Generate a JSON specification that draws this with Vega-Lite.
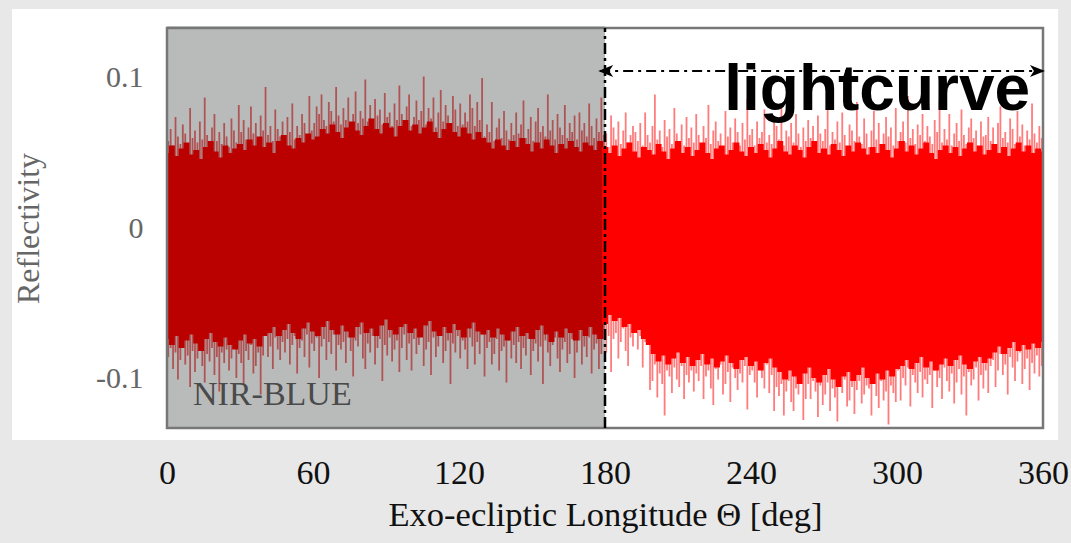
{
"$schema":"https://vega.github.io/schema/vega-lite/v6.json",
"width":876,"height":400,
"autosize":{"type":"none"},
"padding":{"left":167,"top":28,"right":28,"bottom":115},
"background":"#e8e8e8",
"config":{"view":{"stroke":null},"axis":{"grid":false}},
"datasets":{
"panel":[{"x":-63.7,"x2":366.2,"y":-0.1413,"y2":0.146}],
"shade":[{"x":0,"x2":180,"y":-0.1333,"y2":0.1345}],
"frame":[{"x":0,"x2":360,"y":-0.1333,"y2":0.1333}],
"vline":[{"x":180,"y":-0.1333,"y2":0.1333}],
"arrow":[{"x":178,"x2":360,"y":0.1047}],
"tipL":[{"x":177.2,"y":0.1047}],
"tipR":[{"x":360.8,"y":0.1047}],
"lab":[{"x":354.7,"y":0.0787,"t":"lightcurve"}],
"band":[{"x":10.7,"y":-0.118,"t":"NIR-BLUE"}],
"core":[
{"x":0,"c":0.050,"d":-0.074},{"x":2,"c":0.055,"d":-0.078},{"x":4,"c":0.048,"d":-0.072},{"x":6,"c":0.053,"d":-0.080},{"x":8,"c":0.057,"d":-0.075},{"x":10,"c":0.049,"d":-0.071},{"x":12,"c":0.052,"d":-0.077},{"x":14,"c":0.046,"d":-0.082},{"x":16,"c":0.054,"d":-0.074},{"x":18,"c":0.058,"d":-0.070},
{"x":20,"c":0.051,"d":-0.076},{"x":22,"c":0.047,"d":-0.079},{"x":24,"c":0.055,"d":-0.073},{"x":26,"c":0.050,"d":-0.078},{"x":28,"c":0.053,"d":-0.081},{"x":30,"c":0.056,"d":-0.075},{"x":32,"c":0.052,"d":-0.071},{"x":34,"c":0.059,"d":-0.077},{"x":36,"c":0.055,"d":-0.074},{"x":38,"c":0.061,"d":-0.079},
{"x":40,"c":0.054,"d":-0.072},{"x":42,"c":0.057,"d":-0.070},{"x":44,"c":0.050,"d":-0.066},{"x":46,"c":0.058,"d":-0.072},{"x":48,"c":0.062,"d":-0.068},{"x":50,"c":0.055,"d":-0.064},{"x":52,"c":0.053,"d":-0.070},{"x":54,"c":0.060,"d":-0.074},{"x":56,"c":0.057,"d":-0.067},{"x":58,"c":0.063,"d":-0.063},
{"x":60,"c":0.059,"d":-0.069},{"x":62,"c":0.061,"d":-0.072},{"x":64,"c":0.066,"d":-0.066},{"x":66,"c":0.063,"d":-0.062},{"x":68,"c":0.069,"d":-0.068},{"x":70,"c":0.064,"d":-0.071},{"x":72,"c":0.060,"d":-0.065},{"x":74,"c":0.067,"d":-0.069},{"x":76,"c":0.071,"d":-0.073},{"x":78,"c":0.065,"d":-0.066},
{"x":80,"c":0.062,"d":-0.063},{"x":82,"c":0.068,"d":-0.070},{"x":84,"c":0.073,"d":-0.067},{"x":86,"c":0.066,"d":-0.072},{"x":88,"c":0.063,"d":-0.065},{"x":90,"c":0.070,"d":-0.061},{"x":92,"c":0.067,"d":-0.068},{"x":94,"c":0.061,"d":-0.071},{"x":96,"c":0.068,"d":-0.066},{"x":98,"c":0.072,"d":-0.064},
{"x":100,"c":0.065,"d":-0.070},{"x":102,"c":0.069,"d":-0.067},{"x":104,"c":0.063,"d":-0.073},{"x":106,"c":0.067,"d":-0.065},{"x":108,"c":0.071,"d":-0.062},{"x":110,"c":0.064,"d":-0.069},{"x":112,"c":0.060,"d":-0.072},{"x":114,"c":0.066,"d":-0.066},{"x":116,"c":0.070,"d":-0.070},{"x":118,"c":0.064,"d":-0.064},
{"x":120,"c":0.061,"d":-0.068},{"x":122,"c":0.067,"d":-0.073},{"x":124,"c":0.063,"d":-0.067},{"x":126,"c":0.059,"d":-0.063},{"x":128,"c":0.064,"d":-0.069},{"x":130,"c":0.060,"d":-0.071},{"x":132,"c":0.057,"d":-0.068},{"x":134,"c":0.053,"d":-0.073},{"x":136,"c":0.059,"d":-0.067},{"x":138,"c":0.055,"d":-0.071},
{"x":140,"c":0.052,"d":-0.075},{"x":142,"c":0.058,"d":-0.069},{"x":144,"c":0.054,"d":-0.066},{"x":146,"c":0.060,"d":-0.072},{"x":148,"c":0.056,"d":-0.070},{"x":150,"c":0.051,"d":-0.074},{"x":152,"c":0.057,"d":-0.068},{"x":154,"c":0.053,"d":-0.065},{"x":156,"c":0.059,"d":-0.071},{"x":158,"c":0.055,"d":-0.076},
{"x":160,"c":0.050,"d":-0.069},{"x":162,"c":0.056,"d":-0.073},{"x":164,"c":0.053,"d":-0.067},{"x":166,"c":0.058,"d":-0.070},{"x":168,"c":0.054,"d":-0.075},{"x":170,"c":0.051,"d":-0.068},{"x":172,"c":0.057,"d":-0.072},{"x":174,"c":0.055,"d":-0.066},{"x":176,"c":0.052,"d":-0.071},{"x":178,"c":0.058,"d":-0.074},
{"x":180,"c":0.054,"d":-0.064},{"x":182,"c":0.050,"d":-0.058},{"x":184,"c":0.055,"d":-0.062},{"x":186,"c":0.048,"d":-0.060},{"x":188,"c":0.053,"d":-0.066},{"x":190,"c":0.057,"d":-0.064},{"x":192,"c":0.051,"d":-0.070},{"x":194,"c":0.047,"d":-0.068},{"x":196,"c":0.054,"d":-0.074},{"x":198,"c":0.052,"d":-0.078},
{"x":200,"c":0.049,"d":-0.084},{"x":202,"c":0.056,"d":-0.089},{"x":204,"c":0.051,"d":-0.085},{"x":206,"c":0.046,"d":-0.091},{"x":208,"c":0.053,"d":-0.087},{"x":210,"c":0.058,"d":-0.083},{"x":212,"c":0.050,"d":-0.090},{"x":214,"c":0.054,"d":-0.086},{"x":216,"c":0.048,"d":-0.092},{"x":218,"c":0.052,"d":-0.088},
{"x":220,"c":0.057,"d":-0.084},{"x":222,"c":0.050,"d":-0.091},{"x":224,"c":0.046,"d":-0.087},{"x":226,"c":0.053,"d":-0.093},{"x":228,"c":0.055,"d":-0.089},{"x":230,"c":0.049,"d":-0.085},{"x":232,"c":0.052,"d":-0.090},{"x":234,"c":0.057,"d":-0.094},{"x":236,"c":0.051,"d":-0.088},{"x":238,"c":0.048,"d":-0.086},
{"x":240,"c":0.054,"d":-0.092},{"x":242,"c":0.050,"d":-0.089},{"x":244,"c":0.056,"d":-0.095},{"x":246,"c":0.052,"d":-0.090},{"x":248,"c":0.047,"d":-0.087},{"x":250,"c":0.053,"d":-0.093},{"x":252,"c":0.058,"d":-0.096},{"x":254,"c":0.051,"d":-0.101},{"x":256,"c":0.049,"d":-0.095},{"x":258,"c":0.055,"d":-0.099},
{"x":260,"c":0.052,"d":-0.104},{"x":262,"c":0.047,"d":-0.097},{"x":264,"c":0.054,"d":-0.093},{"x":266,"c":0.058,"d":-0.100},{"x":268,"c":0.050,"d":-0.103},{"x":270,"c":0.053,"d":-0.098},{"x":272,"c":0.049,"d":-0.094},{"x":274,"c":0.056,"d":-0.101},{"x":276,"c":0.052,"d":-0.106},{"x":278,"c":0.048,"d":-0.099},
{"x":280,"c":0.055,"d":-0.096},{"x":282,"c":0.051,"d":-0.102},{"x":284,"c":0.057,"d":-0.098},{"x":286,"c":0.053,"d":-0.093},{"x":288,"c":0.049,"d":-0.100},{"x":290,"c":0.054,"d":-0.104},{"x":292,"c":0.050,"d":-0.097},{"x":294,"c":0.056,"d":-0.101},{"x":296,"c":0.052,"d":-0.095},{"x":298,"c":0.047,"d":-0.099},
{"x":300,"c":0.053,"d":-0.094},{"x":302,"c":0.058,"d":-0.092},{"x":304,"c":0.051,"d":-0.088},{"x":306,"c":0.055,"d":-0.094},{"x":308,"c":0.049,"d":-0.090},{"x":310,"c":0.053,"d":-0.086},{"x":312,"c":0.057,"d":-0.093},{"x":314,"c":0.050,"d":-0.089},{"x":316,"c":0.046,"d":-0.095},{"x":318,"c":0.052,"d":-0.091},
{"x":320,"c":0.055,"d":-0.087},{"x":322,"c":0.050,"d":-0.092},{"x":324,"c":0.054,"d":-0.088},{"x":326,"c":0.048,"d":-0.085},{"x":328,"c":0.053,"d":-0.091},{"x":330,"c":0.057,"d":-0.094},{"x":332,"c":0.051,"d":-0.089},{"x":334,"c":0.055,"d":-0.086},{"x":336,"c":0.049,"d":-0.090},{"x":338,"c":0.052,"d":-0.087},
{"x":340,"c":0.056,"d":-0.083},{"x":342,"c":0.050,"d":-0.079},{"x":344,"c":0.054,"d":-0.084},{"x":346,"c":0.048,"d":-0.080},{"x":348,"c":0.053,"d":-0.076},{"x":350,"c":0.057,"d":-0.082},{"x":352,"c":0.051,"d":-0.078},{"x":354,"c":0.055,"d":-0.081},{"x":356,"c":0.050,"d":-0.077},{"x":358,"c":0.053,"d":-0.080},
{"x":360,"c":0.051,"d":-0.076}
],
"spk":[
{"x":0.5,"h":0.058,"l":-0.086},{"x":1.5,"h":0.066,"l":-0.080},{"x":2.5,"h":0.055,"l":-0.094},{"x":3.5,"h":0.074,"l":-0.083},{"x":4.5,"h":0.061,"l":-0.101},{"x":5.5,"h":0.056,"l":-0.088},{"x":6.5,"h":0.069,"l":-0.079},{"x":7.5,"h":0.063,"l":-0.091},{"x":8.5,"h":0.054,"l":-0.085},{"x":9.5,"h":0.080,"l":-0.106},
{"x":10.5,"h":0.060,"l":-0.082},{"x":11.5,"h":0.065,"l":-0.096},{"x":12.5,"h":0.057,"l":-0.087},{"x":13.5,"h":0.071,"l":-0.081},{"x":14.5,"h":0.059,"l":-0.092},{"x":15.5,"h":0.087,"l":-0.103},{"x":16.5,"h":0.062,"l":-0.084},{"x":17.5,"h":0.055,"l":-0.089},{"x":18.5,"h":0.067,"l":-0.080},{"x":19.5,"h":0.076,"l":-0.098},
{"x":20.5,"h":0.058,"l":-0.086},{"x":21.5,"h":0.064,"l":-0.109},{"x":22.5,"h":0.056,"l":-0.083},{"x":23.5,"h":0.070,"l":-0.090},{"x":24.5,"h":0.061,"l":-0.081},{"x":25.5,"h":0.054,"l":-0.095},{"x":26.5,"h":0.073,"l":-0.087},{"x":27.5,"h":0.065,"l":-0.079},{"x":28.5,"h":0.057,"l":-0.100},{"x":29.5,"h":0.082,"l":-0.084},
{"x":30.5,"h":0.064,"l":-0.090},{"x":31.5,"h":0.072,"l":-0.104},{"x":32.5,"h":0.059,"l":-0.082},{"x":33.5,"h":0.067,"l":-0.088},{"x":34.5,"h":0.081,"l":-0.078},{"x":35.5,"h":0.063,"l":-0.097},{"x":36.5,"h":0.070,"l":-0.092},{"x":37.5,"h":0.060,"l":-0.083},{"x":38.5,"h":0.075,"l":-0.111},{"x":39.5,"h":0.065,"l":-0.085},
{"x":40.5,"h":0.094,"l":-0.072},{"x":41.5,"h":0.062,"l":-0.086},{"x":42.5,"h":0.068,"l":-0.079},{"x":43.5,"h":0.058,"l":-0.094},{"x":44.5,"h":0.079,"l":-0.073},{"x":45.5,"h":0.066,"l":-0.081},{"x":46.5,"h":0.061,"l":-0.088},{"x":47.5,"h":0.071,"l":-0.076},{"x":48.5,"h":0.060,"l":-0.083},{"x":49.5,"h":0.074,"l":-0.074},
{"x":50.5,"h":0.064,"l":-0.091},{"x":51.5,"h":0.083,"l":-0.078},{"x":52.5,"h":0.059,"l":-0.072},{"x":53.5,"h":0.068,"l":-0.097},{"x":54.5,"h":0.062,"l":-0.080},{"x":55.5,"h":0.076,"l":-0.075},{"x":56.5,"h":0.070,"l":-0.086},{"x":57.5,"h":0.058,"l":-0.071},{"x":58.5,"h":0.088,"l":-0.093},{"x":59.5,"h":0.065,"l":-0.077},
{"x":60.5,"h":0.070,"l":-0.082},{"x":61.5,"h":0.081,"l":-0.073},{"x":62.5,"h":0.076,"l":-0.100},{"x":63.5,"h":0.089,"l":-0.079},{"x":64.5,"h":0.072,"l":-0.074},{"x":65.5,"h":0.068,"l":-0.088},{"x":66.5,"h":0.084,"l":-0.076},{"x":67.5,"h":0.078,"l":-0.084},{"x":68.5,"h":0.071,"l":-0.071},{"x":69.5,"h":0.094,"l":-0.095},
{"x":70.5,"h":0.075,"l":-0.078},{"x":71.5,"h":0.069,"l":-0.081},{"x":72.5,"h":0.080,"l":-0.076},{"x":73.5,"h":0.072,"l":-0.090},{"x":74.5,"h":0.087,"l":-0.073},{"x":75.5,"h":0.068,"l":-0.082},{"x":76.5,"h":0.076,"l":-0.099},{"x":77.5,"h":0.091,"l":-0.075},{"x":78.5,"h":0.070,"l":-0.079},{"x":79.5,"h":0.078,"l":-0.071},
{"x":80.5,"h":0.073,"l":-0.087},{"x":81.5,"h":0.099,"l":-0.094},{"x":82.5,"h":0.071,"l":-0.077},{"x":83.5,"h":0.082,"l":-0.083},{"x":84.5,"h":0.067,"l":-0.072},{"x":85.5,"h":0.086,"l":-0.091},{"x":86.5,"h":0.075,"l":-0.080},{"x":87.5,"h":0.079,"l":-0.074},{"x":88.5,"h":0.069,"l":-0.102},{"x":89.5,"h":0.090,"l":-0.078},
{"x":90.5,"h":0.074,"l":-0.085},{"x":91.5,"h":0.077,"l":-0.073},{"x":92.5,"h":0.068,"l":-0.089},{"x":93.5,"h":0.083,"l":-0.081},{"x":94.5,"h":0.072,"l":-0.075},{"x":95.5,"h":0.095,"l":-0.096},{"x":96.5,"h":0.076,"l":-0.080},{"x":97.5,"h":0.070,"l":-0.071},{"x":98.5,"h":0.081,"l":-0.088},{"x":99.5,"h":0.089,"l":-0.077},
{"x":100.5,"h":0.068,"l":-0.095},{"x":101.5,"h":0.074,"l":-0.074},{"x":102.5,"h":0.085,"l":-0.084},{"x":103.5,"h":0.072,"l":-0.078},{"x":104.5,"h":0.078,"l":-0.072},{"x":105.5,"h":0.101,"l":-0.092},{"x":106.5,"h":0.069,"l":-0.081},{"x":107.5,"h":0.080,"l":-0.076},{"x":108.5,"h":0.073,"l":-0.098},{"x":109.5,"h":0.087,"l":-0.073},
{"x":110.5,"h":0.067,"l":-0.086},{"x":111.5,"h":0.077,"l":-0.079},{"x":112.5,"h":0.092,"l":-0.070},{"x":113.5,"h":0.071,"l":-0.090},{"x":114.5,"h":0.082,"l":-0.082},{"x":115.5,"h":0.075,"l":-0.075},{"x":116.5,"h":0.070,"l":-0.104},{"x":117.5,"h":0.088,"l":-0.077},{"x":118.5,"h":0.079,"l":-0.083},{"x":119.5,"h":0.068,"l":-0.072},
{"x":120.5,"h":0.083,"l":-0.087},{"x":121.5,"h":0.069,"l":-0.075},{"x":122.5,"h":0.077,"l":-0.081},{"x":123.5,"h":0.071,"l":-0.094},{"x":124.5,"h":0.089,"l":-0.073},{"x":125.5,"h":0.080,"l":-0.079},{"x":126.5,"h":0.068,"l":-0.091},{"x":127.5,"h":0.084,"l":-0.076},{"x":128.5,"h":0.072,"l":-0.084},{"x":129.5,"h":0.100,"l":-0.071},
{"x":130.5,"h":0.061,"l":-0.099},{"x":131.5,"h":0.069,"l":-0.080},{"x":132.5,"h":0.064,"l":-0.076},{"x":133.5,"h":0.084,"l":-0.091},{"x":134.5,"h":0.058,"l":-0.084},{"x":135.5,"h":0.067,"l":-0.074},{"x":136.5,"h":0.073,"l":-0.095},{"x":137.5,"h":0.060,"l":-0.082},{"x":138.5,"h":0.078,"l":-0.079},{"x":139.5,"h":0.065,"l":-0.103},
{"x":140.5,"h":0.059,"l":-0.075},{"x":141.5,"h":0.070,"l":-0.087},{"x":142.5,"h":0.062,"l":-0.078},{"x":143.5,"h":0.077,"l":-0.090},{"x":144.5,"h":0.063,"l":-0.076},{"x":145.5,"h":0.069,"l":-0.094},{"x":146.5,"h":0.085,"l":-0.080},{"x":147.5,"h":0.060,"l":-0.085},{"x":148.5,"h":0.066,"l":-0.074},{"x":149.5,"h":0.074,"l":-0.098},
{"x":150.5,"h":0.058,"l":-0.082},{"x":151.5,"h":0.071,"l":-0.077},{"x":152.5,"h":0.080,"l":-0.089},{"x":153.5,"h":0.064,"l":-0.079},{"x":154.5,"h":0.068,"l":-0.104},{"x":155.5,"h":0.061,"l":-0.075},{"x":156.5,"h":0.089,"l":-0.083},{"x":157.5,"h":0.065,"l":-0.092},{"x":158.5,"h":0.072,"l":-0.078},{"x":159.5,"h":0.059,"l":-0.073},
{"x":160.5,"h":0.076,"l":-0.087},{"x":161.5,"h":0.067,"l":-0.096},{"x":162.5,"h":0.062,"l":-0.081},{"x":163.5,"h":0.082,"l":-0.076},{"x":164.5,"h":0.060,"l":-0.090},{"x":165.5,"h":0.070,"l":-0.084},{"x":166.5,"h":0.064,"l":-0.074},{"x":167.5,"h":0.075,"l":-0.100},{"x":168.5,"h":0.059,"l":-0.083},{"x":169.5,"h":0.077,"l":-0.075},
{"x":170.5,"h":0.065,"l":-0.091},{"x":171.5,"h":0.070,"l":-0.079},{"x":172.5,"h":0.061,"l":-0.086},{"x":173.5,"h":0.083,"l":-0.073},{"x":174.5,"h":0.068,"l":-0.097},{"x":175.5,"h":0.060,"l":-0.081},{"x":176.5,"h":0.073,"l":-0.077},{"x":177.5,"h":0.064,"l":-0.094},{"x":178.5,"h":0.087,"l":-0.084},{"x":179.5,"h":0.062,"l":-0.074},
{"x":180.5,"h":0.063,"l":-0.083},{"x":181.5,"h":0.054,"l":-0.072},{"x":182.5,"h":0.075,"l":-0.096},{"x":183.5,"h":0.067,"l":-0.074},{"x":184.5,"h":0.059,"l":-0.070},{"x":185.5,"h":0.071,"l":-0.087},{"x":186.5,"h":0.056,"l":-0.076},{"x":187.5,"h":0.065,"l":-0.067},{"x":188.5,"h":0.077,"l":-0.082},{"x":189.5,"h":0.057,"l":-0.092},
{"x":190.5,"h":0.062,"l":-0.073},{"x":191.5,"h":0.068,"l":-0.079},{"x":192.5,"h":0.064,"l":-0.068},{"x":193.5,"h":0.058,"l":-0.081},{"x":194.5,"h":0.070,"l":-0.072},{"x":195.5,"h":0.055,"l":-0.093},{"x":196.5,"h":0.077,"l":-0.076},{"x":197.5,"h":0.062,"l":-0.070},{"x":198.5,"h":0.057,"l":-0.108},{"x":199.5,"h":0.068,"l":-0.102},
{"x":200.5,"h":0.089,"l":-0.091},{"x":201.5,"h":0.059,"l":-0.113},{"x":202.5,"h":0.065,"l":-0.097},{"x":203.5,"h":0.054,"l":-0.104},{"x":204.5,"h":0.072,"l":-0.125},{"x":205.5,"h":0.061,"l":-0.095},{"x":206.5,"h":0.066,"l":-0.099},{"x":207.5,"h":0.056,"l":-0.110},{"x":208.5,"h":0.080,"l":-0.093},{"x":209.5,"h":0.063,"l":-0.101},
{"x":210.5,"h":0.058,"l":-0.106},{"x":211.5,"h":0.069,"l":-0.092},{"x":212.5,"h":0.055,"l":-0.114},{"x":213.5,"h":0.074,"l":-0.098},{"x":214.5,"h":0.060,"l":-0.103},{"x":215.5,"h":0.067,"l":-0.095},{"x":216.5,"h":0.057,"l":-0.109},{"x":217.5,"h":0.076,"l":-0.097},{"x":218.5,"h":0.062,"l":-0.102},{"x":219.5,"h":0.055,"l":-0.092},
{"x":220.5,"h":0.068,"l":-0.114},{"x":221.5,"h":0.060,"l":-0.099},{"x":222.5,"h":0.082,"l":-0.095},{"x":223.5,"h":0.056,"l":-0.107},{"x":224.5,"h":0.065,"l":-0.118},{"x":225.5,"h":0.071,"l":-0.094},{"x":226.5,"h":0.058,"l":-0.101},{"x":227.5,"h":0.063,"l":-0.091},{"x":228.5,"h":0.054,"l":-0.111},{"x":229.5,"h":0.078,"l":-0.104},
{"x":230.5,"h":0.061,"l":-0.096},{"x":231.5,"h":0.067,"l":-0.116},{"x":232.5,"h":0.057,"l":-0.093},{"x":233.5,"h":0.073,"l":-0.100},{"x":234.5,"h":0.064,"l":-0.108},{"x":235.5,"h":0.055,"l":-0.097},{"x":236.5,"h":0.070,"l":-0.103},{"x":237.5,"h":0.059,"l":-0.092},{"x":238.5,"h":0.086,"l":-0.121},{"x":239.5,"h":0.062,"l":-0.098},
{"x":240.5,"h":0.066,"l":-0.095},{"x":241.5,"h":0.055,"l":-0.103},{"x":242.5,"h":0.071,"l":-0.113},{"x":243.5,"h":0.060,"l":-0.093},{"x":244.5,"h":0.064,"l":-0.100},{"x":245.5,"h":0.079,"l":-0.107},{"x":246.5,"h":0.057,"l":-0.091},{"x":247.5,"h":0.062,"l":-0.110},{"x":248.5,"h":0.056,"l":-0.098},{"x":249.5,"h":0.074,"l":-0.122},
{"x":250.5,"h":0.068,"l":-0.106},{"x":251.5,"h":0.059,"l":-0.112},{"x":252.5,"h":0.083,"l":-0.104},{"x":253.5,"h":0.055,"l":-0.125},{"x":254.5,"h":0.065,"l":-0.109},{"x":255.5,"h":0.061,"l":-0.102},{"x":256.5,"h":0.070,"l":-0.116},{"x":257.5,"h":0.057,"l":-0.122},{"x":258.5,"h":0.076,"l":-0.107},{"x":259.5,"h":0.063,"l":-0.111},
{"x":260.5,"h":0.054,"l":-0.103},{"x":261.5,"h":0.067,"l":-0.128},{"x":262.5,"h":0.058,"l":-0.114},{"x":263.5,"h":0.072,"l":-0.104},{"x":264.5,"h":0.060,"l":-0.114},{"x":265.5,"h":0.068,"l":-0.102},{"x":266.5,"h":0.056,"l":-0.109},{"x":267.5,"h":0.075,"l":-0.126},{"x":268.5,"h":0.063,"l":-0.105},{"x":269.5,"h":0.058,"l":-0.118},
{"x":270.5,"h":0.066,"l":-0.111},{"x":271.5,"h":0.081,"l":-0.103},{"x":272.5,"h":0.055,"l":-0.122},{"x":273.5,"h":0.064,"l":-0.107},{"x":274.5,"h":0.059,"l":-0.113},{"x":275.5,"h":0.071,"l":-0.129},{"x":276.5,"h":0.057,"l":-0.104},{"x":277.5,"h":0.077,"l":-0.110},{"x":278.5,"h":0.062,"l":-0.101},{"x":279.5,"h":0.054,"l":-0.119},
{"x":280.5,"h":0.069,"l":-0.115},{"x":281.5,"h":0.065,"l":-0.106},{"x":282.5,"h":0.058,"l":-0.124},{"x":283.5,"h":0.084,"l":-0.108},{"x":284.5,"h":0.061,"l":-0.102},{"x":285.5,"h":0.056,"l":-0.117},{"x":286.5,"h":0.073,"l":-0.111},{"x":287.5,"h":0.063,"l":-0.105},{"x":288.5,"h":0.054,"l":-0.107},{"x":289.5,"h":0.065,"l":-0.125},
{"x":290.5,"h":0.078,"l":-0.104},{"x":291.5,"h":0.059,"l":-0.112},{"x":292.5,"h":0.070,"l":-0.120},{"x":293.5,"h":0.056,"l":-0.102},{"x":294.5,"h":0.063,"l":-0.115},{"x":295.5,"h":0.074,"l":-0.109},{"x":296.5,"h":0.061,"l":-0.131},{"x":297.5,"h":0.067,"l":-0.105},{"x":298.5,"h":0.055,"l":-0.110},{"x":299.5,"h":0.080,"l":-0.116},
{"x":300.5,"h":0.058,"l":-0.095},{"x":301.5,"h":0.064,"l":-0.115},{"x":302.5,"h":0.071,"l":-0.100},{"x":303.5,"h":0.057,"l":-0.105},{"x":304.5,"h":0.088,"l":-0.093},{"x":305.5,"h":0.060,"l":-0.119},{"x":306.5,"h":0.066,"l":-0.098},{"x":307.5,"h":0.056,"l":-0.103},{"x":308.5,"h":0.069,"l":-0.110},{"x":309.5,"h":0.062,"l":-0.096},
{"x":310.5,"h":0.076,"l":-0.113},{"x":311.5,"h":0.058,"l":-0.101},{"x":312.5,"h":0.068,"l":-0.104},{"x":313.5,"h":0.061,"l":-0.098},{"x":314.5,"h":0.056,"l":-0.120},{"x":315.5,"h":0.072,"l":-0.095},{"x":316.5,"h":0.064,"l":-0.106},{"x":317.5,"h":0.085,"l":-0.100},{"x":318.5,"h":0.057,"l":-0.114},{"x":319.5,"h":0.066,"l":-0.093},
{"x":320.5,"h":0.059,"l":-0.102},{"x":321.5,"h":0.076,"l":-0.109},{"x":322.5,"h":0.055,"l":-0.097},{"x":323.5,"h":0.063,"l":-0.117},{"x":324.5,"h":0.070,"l":-0.103},{"x":325.5,"h":0.058,"l":-0.094},{"x":326.5,"h":0.079,"l":-0.111},{"x":327.5,"h":0.062,"l":-0.099},{"x":328.5,"h":0.056,"l":-0.125},{"x":329.5,"h":0.067,"l":-0.096},
{"x":330.5,"h":0.073,"l":-0.105},{"x":331.5,"h":0.060,"l":-0.101},{"x":332.5,"h":0.065,"l":-0.093},{"x":333.5,"h":0.054,"l":-0.115},{"x":334.5,"h":0.071,"l":-0.098},{"x":335.5,"h":0.061,"l":-0.107},{"x":336.5,"h":0.062,"l":-0.095},{"x":337.5,"h":0.074,"l":-0.110},{"x":338.5,"h":0.058,"l":-0.092},{"x":339.5,"h":0.067,"l":-0.088},
{"x":340.5,"h":0.055,"l":-0.106},{"x":341.5,"h":0.070,"l":-0.095},{"x":342.5,"h":0.081,"l":-0.084},{"x":343.5,"h":0.060,"l":-0.098},{"x":344.5,"h":0.064,"l":-0.091},{"x":345.5,"h":0.057,"l":-0.111},{"x":346.5,"h":0.073,"l":-0.086},{"x":347.5,"h":0.066,"l":-0.093},{"x":348.5,"h":0.056,"l":-0.102},{"x":349.5,"h":0.078,"l":-0.089},
{"x":350.5,"h":0.061,"l":-0.083},{"x":351.5,"h":0.069,"l":-0.104},{"x":352.5,"h":0.055,"l":-0.094},{"x":353.5,"h":0.065,"l":-0.087},{"x":354.5,"h":0.059,"l":-0.108},{"x":355.5,"h":0.083,"l":-0.090},{"x":356.5,"h":0.063,"l":-0.097},{"x":357.5,"h":0.057,"l":-0.085},{"x":358.5,"h":0.068,"l":-0.099},{"x":359.5,"h":0.060,"l":-0.092}
]
},
"layer":[
{"data":{"name":"panel"},"mark":{"type":"rect","fill":"#ffffff"},
 "encoding":{
  "x":{"field":"x","type":"quantitative","scale":{"domain":[0,360],"nice":false,"zero":false},
   "axis":{"values":[0,60,120,180,240,300,360],"title":"Exo-ecliptic Longitude Θ [deg]","labelFlush":false,"ticks":false,"domain":false,"grid":false,"labelPadding":28,"labelDx":4,"labelFont":"Liberation Serif","labelFontSize":34,"labelColor":"#111111","titleFont":"Liberation Serif","titleFontSize":34.5,"titleFontWeight":"normal","titleColor":"#111111","titlePadding":8,"zindex":1}},
  "x2":{"field":"x2"},
  "y":{"field":"y","type":"quantitative","scale":{"domain":[-0.1333,0.1333],"nice":false,"zero":false},
   "axis":{"values":[-0.1,0,0.1],"labelExpr":"datum.value > 0.05 ? '0.1' : (datum.value < -0.05 ? '-0.1' : '0')","title":"Reflectivity","ticks":false,"domain":false,"grid":false,"labelPadding":24,"labelFont":"Liberation Serif","labelFontSize":30,"labelColor":"#666666","titleFont":"Liberation Serif","titleFontSize":32,"titleFontWeight":"normal","titleColor":"#666666","titlePadding":50,"zindex":1}},
  "y2":{"field":"y2"}}},
{"data":{"name":"shade"},"mark":{"type":"rect","fill":"#b9bbbb"},
 "encoding":{"x":{"field":"x","type":"quantitative"},"x2":{"field":"x2"},"y":{"field":"y","type":"quantitative"},"y2":{"field":"y2"}}},
{"data":{"name":"spk"},"mark":{"type":"rule","strokeWidth":1.8,"opacity":0.55,"clip":true},
 "encoding":{"x":{"field":"x","type":"quantitative"},"y":{"field":"l","type":"quantitative"},"y2":{"field":"h"},
  "color":{"condition":{"test":"datum.x < 180","value":"#a80000"},"value":"#ff1010"}}},
{"data":{"name":"core"},"mark":{"type":"rule","strokeWidth":6,"clip":true},
 "encoding":{"x":{"field":"x","type":"quantitative"},"y":{"field":"d","type":"quantitative"},"y2":{"field":"c"},
  "color":{"condition":{"test":"datum.x < 180","value":"#bb0000"},"value":"#ff0000"}}},
{"data":{"name":"frame"},"mark":{"type":"rect","fillOpacity":0,"stroke":"#777777","strokeWidth":2.5},
 "encoding":{"x":{"field":"x","type":"quantitative"},"x2":{"field":"x2"},"y":{"field":"y","type":"quantitative"},"y2":{"field":"y2"}}},
{"data":{"name":"vline"},"mark":{"type":"rule","color":"#000000","strokeWidth":2.5,"strokeDash":[11,4,3,4]},
 "encoding":{"x":{"field":"x","type":"quantitative"},"y":{"field":"y","type":"quantitative"},"y2":{"field":"y2"}}},
{"data":{"name":"arrow"},"mark":{"type":"rule","color":"#000000","strokeWidth":2,"strokeDash":[10,5,3,5]},
 "encoding":{"x":{"field":"x","type":"quantitative"},"x2":{"field":"x2"},"y":{"field":"y","type":"quantitative"}}},
{"data":{"name":"tipL"},"mark":{"type":"point","shape":"M0,0L3,-1.2L2.2,0L3,1.2Z","filled":true,"color":"#000000","size":100,"opacity":1},
 "encoding":{"x":{"field":"x","type":"quantitative"},"y":{"field":"y","type":"quantitative"}}},
{"data":{"name":"tipR"},"mark":{"type":"point","shape":"M0,0L-3,-1.2L-2.2,0L-3,1.2Z","filled":true,"color":"#000000","size":100,"opacity":1},
 "encoding":{"x":{"field":"x","type":"quantitative"},"y":{"field":"y","type":"quantitative"}}},
{"data":{"name":"lab"},"mark":{"type":"text","font":"Liberation Sans","fontWeight":"bold","fontSize":64,"align":"right","baseline":"alphabetic","color":"#000000"},
 "encoding":{"x":{"field":"x","type":"quantitative"},"y":{"field":"y","type":"quantitative"},"text":{"field":"t"}}},
{"data":{"name":"band"},"mark":{"type":"text","font":"Liberation Serif","fontSize":34,"align":"left","baseline":"alphabetic","color":"#4a4a4a"},
 "encoding":{"x":{"field":"x","type":"quantitative"},"y":{"field":"y","type":"quantitative"},"text":{"field":"t"}}}
]
}
